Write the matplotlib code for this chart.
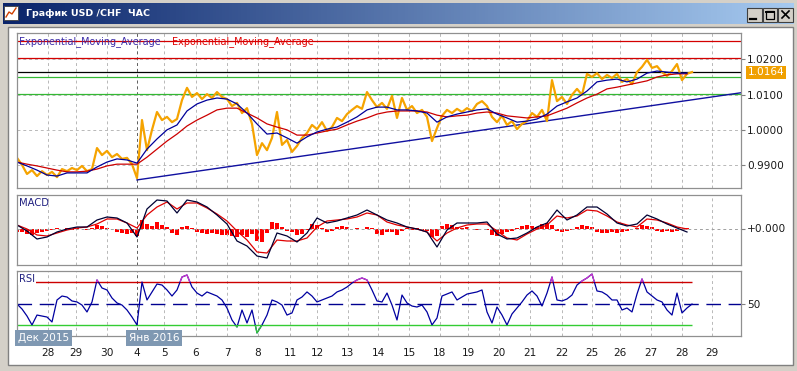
import numpy as np
import matplotlib.pyplot as plt
from matplotlib.patches import Rectangle
from matplotlib.colors import LinearSegmentedColormap
from matplotlib.transforms import blended_transform_factory

# ---- data ----
# time axis: one unit ~ one screen column of the chart, day starts below
day_t = [31, 59, 90, 120, 147, 179, 210, 241, 273, 300, 331, 361,
         392, 423, 451, 482, 513, 545, 575, 603, 634, 665, 695]
day_labels = ['28', '29', '30', '4', '5', '6', '7', '8', '11', '12', '13', '14',
              '15', '18', '19', '20', '21', '22', '25', '26', '27', '28', '29']
month_t = [1, 112]
month_labels = ['Дек 2015', 'Янв 2016']
month_start = 120

# USD/CHF close, one value every 5 units
price = [0.9919, 0.9899, 0.9873, 0.9884, 0.9867, 0.9881, 0.9870, 0.9879, 0.9864, 0.9887,
         0.9881, 0.9890, 0.9884, 0.9896, 0.9881, 0.9887, 0.9947, 0.9927, 0.9939, 0.9921,
         0.9930, 0.9916, 0.9919, 0.9901, 0.9861, 1.0027, 0.9941, 0.9999, 1.0050, 1.0027,
         1.0036, 1.0021, 1.0030, 1.0084, 1.0119, 1.0093, 1.0104, 1.0087, 1.0101, 1.0090,
         1.0107, 1.0093, 1.0087, 1.0067, 1.0076, 1.0047, 1.0061, 1.0016, 0.9927, 0.9961,
         0.9941, 0.9976, 1.0050, 0.9956, 0.9970, 0.9936, 0.9953, 0.9976, 0.9990, 1.0013,
         1.0001, 1.0021, 0.9996, 1.0007, 1.0033, 1.0024, 1.0044, 1.0056, 1.0067, 1.0059,
         1.0107, 1.0084, 1.0064, 1.0076, 1.0059, 1.0096, 1.0033, 1.0090, 1.0056, 1.0067,
         1.0047, 1.0056, 1.0036, 0.9967, 1.0004, 1.0039, 1.0056, 1.0047, 1.0059, 1.0050,
         1.0061, 1.0053, 1.0073, 1.0081, 1.0067, 1.0036, 1.0021, 1.0039, 1.0013, 1.0024,
         1.0001, 1.0016, 1.0024, 1.0047, 1.0036, 1.0056, 1.0024, 1.0141, 1.0081, 1.0093,
         1.0073, 1.0099, 1.0116, 1.0099, 1.0159, 1.0150, 1.0161, 1.0144, 1.0156, 1.0147,
         1.0159, 1.0136, 1.0144, 1.0130, 1.0164, 1.0179, 1.0199, 1.0176, 1.0181, 1.0164,
         1.0153, 1.0167, 1.0187, 1.0141, 1.0159, 1.0164]

# two exponential moving averages, one value every 10 units
ema_fast = [0.9907, 0.9896, 0.9884, 0.9870, 0.9867, 0.9876, 0.9876, 0.9876, 0.9893, 0.9907,
            0.9916, 0.9913, 0.9904, 0.9944, 0.9973, 0.9999, 1.0013, 1.0053, 1.0073, 1.0084,
            1.0090, 1.0087, 1.0073, 1.0047, 1.0016, 0.9987, 0.9990, 0.9976, 0.9961, 0.9979,
            0.9993, 1.0001, 1.0007, 1.0021, 1.0036, 1.0056, 1.0064, 1.0064, 1.0056, 1.0056,
            1.0053, 1.0047, 1.0021, 1.0036, 1.0044, 1.0050, 1.0056, 1.0059, 1.0044, 1.0033,
            1.0021, 1.0024, 1.0030, 1.0044, 1.0067, 1.0079, 1.0090, 1.0110, 1.0136, 1.0141,
            1.0144, 1.0136, 1.0144, 1.0161, 1.0167, 1.0164, 1.0161, 1.0161]
ema_slow = [0.9907, 0.9901, 0.9896, 0.9890, 0.9884, 0.9879, 0.9879, 0.9881, 0.9887, 0.9896,
            0.9901, 0.9901, 0.9901, 0.9921, 0.9944, 0.9967, 0.9987, 1.0010, 1.0027, 1.0041,
            1.0056, 1.0061, 1.0061, 1.0047, 1.0033, 1.0016, 1.0007, 0.9999, 0.9984, 0.9984,
            0.9990, 0.9996, 1.0001, 1.0013, 1.0024, 1.0033, 1.0044, 1.0050, 1.0053, 1.0053,
            1.0053, 1.0050, 1.0041, 1.0036, 1.0039, 1.0041, 1.0047, 1.0050, 1.0047, 1.0039,
            1.0036, 1.0033, 1.0036, 1.0039, 1.0050, 1.0061, 1.0076, 1.0090, 1.0101, 1.0116,
            1.0121, 1.0127, 1.0133, 1.0139, 1.0150, 1.0156, 1.0159, 1.0159]

# horizontal levels and the support trend line
levels = [1.0253, 1.0203, 1.0163, 1.0149, 1.0101]
level_colors = ['#d40000', '#d40000', '#000000', '#33b833', '#33b833']
trend_t = [120, 724]
trend_v = [0.9856, 1.0105]

# MACD main / signal (pips, every 10 units) and histogram (pips, every 5 units)
macd_main = [3.5, -2.5, -10.5, -8.5, -3.5, -0.5, 1.5, 1.5, 8.5, 11.5,
             10.5, 5.5, -8.5, 19.5, 28.5, 27.5, 15.5, 28.5, 26.5, 21.5,
             13.5, 4.5, -12.5, -17.5, -27.5, -29.5, -4.5, -7.5, -13.5, -4.5,
             10.5, 5.5, 7.5, 10.5, 13.5, 18.5, 13.5, 8.5, 5.5, 1.5,
             -0.5, -3.5, -18.5, -1.5, 5.5, 5.5, 5.5, 6.5, -5.5, -10.5,
             -9.5, -4.5, 1.5, 5.5, 18.5, 8.5, 13.5, 21.5, 21.5, 14.5,
             5.5, 2.5, 4.5, 13.5, 9.5, 4.5, 0.5, -3.5]
macd_signal = [3.5, -0.5, -6.5, -7.5, -4.5, -1.5, 0.5, 1.5, 4.5, 9.5,
               9.5, 5.5, 0.5, 13.5, 21.5, 26.5, 19.5, 25.5, 25.5, 20.5,
               14.5, 7.5, -2.5, -11.5, -23.5, -24.5, -11.5, -12.5, -12.5, -9.5,
               1.5, 7.5, 8.5, 9.5, 11.5, 15.5, 13.5, 6.5, 3.5, 1.5,
               -0.5, -3.5, -12.5, -4.5, 0.5, 3.5, 4.5, 4.5, -2.5, -9.5,
               -11.5, -5.5, -0.5, 3.5, 12.5, 10.5, 12.5, 18.5, 17.5, 12.5,
               6.5, 3.5, 1.5, 9.5, 8.5, 5.5, 1.5, -0.5]
macd_hist = [-3, -3, -5, -6, -4, -3, -2, -1, 1, 0, 1, -1, 1, 0, -1, 1, 4, 3, 1, 0,
             -3, -4, -5, -4, -7, 9, 5, 3, 7, 4, 2, -4, -6, 2, 3, 1, -3, -4, -5, -4,
             -5, -6, -6, -7, -8, -6, -8, -5, -12, -13, -4, 7, 6, 2, -2, -3, -6, -5, -1, 5,
             4, 1, -3, -2, 2, 3, 2, 0, 1, 0, 2, 1, -5, -6, -3, -3, -6, -2, 1, -1,
             1, -1, -2, -8, -7, 3, 5, 4, 2, 1, 2, 0, -1, 0, -1, -6, -7, -5, -3, -2,
             1, 3, 4, 3, 2, 5, 6, 4, -2, -3, -2, -1, 2, 4, 3, 2, -3, -4, -4, -3,
             -4, -3, -2, 0, 1, 4, 3, 2, -2, -3, -2, -3, -2, -1, 1, 0]

# RSI, every 5 units
rsi = [49.5, 45.0, 38.6, 30.5, 39.5, 38.6, 37.7, 33.2, 53.2, 56.8,
       55.9, 52.3, 51.4, 48.6, 42.3, 51.4, 71.4, 64.1, 62.3, 55.0,
       50.5, 48.6, 44.1, 37.7, 30.5, 69.5, 53.2, 60.5, 67.7, 66.8,
       62.3, 56.8, 62.3, 74.1, 75.9, 65.0, 59.5, 56.8, 60.5, 58.6,
       56.8, 53.2, 45.9, 35.0, 28.6, 44.1, 32.3, 44.1, 23.2, 30.5,
       39.5, 53.2, 51.4, 48.6, 39.5, 41.4, 53.2, 55.9, 60.5, 56.8,
       51.4, 53.2, 55.0, 56.8, 60.5, 62.3, 65.0, 68.6, 71.4, 73.2,
       71.4, 62.3, 52.3, 51.4, 59.5, 48.6, 35.0, 57.7, 50.5, 47.7,
       46.8, 48.6, 42.3, 30.5, 36.8, 56.8, 58.6, 60.5, 53.2, 55.9,
       58.6, 59.5, 60.5, 62.3, 42.3, 32.3, 46.8, 39.5, 30.5, 40.5,
       45.9, 51.4, 57.7, 61.4, 56.8, 47.7, 59.5, 74.1, 53.2, 52.3,
       54.1, 57.7, 66.8, 70.5, 73.2, 76.8, 61.4, 60.5, 57.7, 53.2,
       53.2, 44.1, 45.9, 42.3, 58.6, 72.3, 60.5, 56.8, 53.2, 51.4,
       44.1, 39.5, 59.5, 41.4, 45.9, 49.5]

t_price = np.arange(len(price)) * 5
t_ema = np.arange(len(ema_fast)) * 10
t_hist = np.arange(len(macd_hist)) * 5
t_rsi = np.arange(len(rsi)) * 5
t_end = t_rsi[-1]

# ---- figure ----
W, H = 797, 371
fig = plt.figure(figsize=(W / 100, H / 100), dpi=100, facecolor='#d4d0c8')

# window chrome in pixel coordinates
bg = fig.add_axes([0, 0, 1, 1])
bg.axis('off')
tb = LinearSegmentedColormap.from_list('tb', ['#0a246a', '#a6caf0'])
bg.imshow(np.linspace(0, 1, 256).reshape(1, -1), cmap=tb, extent=(3, 794, 24, 3), aspect='auto')
bg.add_patch(Rectangle((4, 6), 14, 14, fc='white', ec='#404040', lw=0.6))
bg.plot([6, 9, 12, 16], [17, 12, 14, 8], color='#d04000', lw=1)
bg.text(26, 14, 'График USD /CHF  ЧАС', color='white', fontsize=6.8, fontweight='bold',
        va='center', ha='left')
for bx, bw in [(747, 15), (763, 14), (778, 15)]:
    bg.add_patch(Rectangle((bx, 8), bw, 14, fc='#d4d0c8', ec='#404040', lw=0.8))
bg.plot([750, 756], [18.5, 18.5], color='black', lw=1.6)
bg.add_patch(Rectangle((766, 11), 8, 8, fc='none', ec='black', lw=0.9))
bg.plot([766, 774], [11.5, 11.5], color='black', lw=1.4)
bg.plot([782, 789], [11, 18], color='black', lw=1.2)
bg.plot([782, 789], [18, 11], color='black', lw=1.2)
bg.add_patch(Rectangle((8, 27), 785, 338, fc='white', ec='#808080', lw=1))
bg.set_xlim(0, W)
bg.set_ylim(H, 0)


def px_axes(x0, y0, x1, y1):
    return fig.add_axes([x0 / W, 1 - y1 / H, (x1 - x0) / W, (y1 - y0) / H])


ax_p = px_axes(17, 33, 741, 188)
ax_m = px_axes(17, 195, 741, 265)
ax_r = px_axes(17, 271, 741, 336)

grid_kw = dict(color='#b8b8b8', ls=(0, (3, 3)), lw=0.7)
for ax in (ax_p, ax_m, ax_r):
    ax.set_xlim(0, 724)
    ax.set_xticks(day_t)
    ax.grid(axis='x', **grid_kw)
    ax.axvline(month_start, color='#606060', ls=(0, (3, 3)), lw=0.7)
    ax.yaxis.tick_right()
    ax.tick_params(axis='y', length=3, color='#808080', labelsize=7.6,
                   labelcolor='#1a1a1a', pad=1.5)
    ax.tick_params(axis='x', length=0, labelbottom=False)
    for s in ax.spines.values():
        s.set_color('#909090')
        s.set_linewidth(0.9)

# ---- price panel ----
ax_p.set_ylim(0.98329, 1.02757)
ax_p.set_yticks([0.99, 1.0, 1.01, 1.02], ['0.9900', '1.0000', '1.0100', '1.0200'])
ax_p.grid(axis='y', **grid_kw)
for lv, c in zip(levels, level_colors):
    ax_p.axhline(lv, color=c, lw=0.9)
ax_p.plot(trend_t, trend_v, color='#1010a0', lw=1.0)
ax_p.plot(t_price, price, color='#f5a300', lw=1.6)
ax_p.plot(t_ema, ema_slow, color='#cc0000', lw=0.9)
ax_p.plot(t_ema, ema_fast, color='#000099', lw=0.9)
ax_p.text(0.003, 0.948, 'Exponential_Moving_Average', transform=ax_p.transAxes,
          color='#3a2aa8', fontsize=6.9, va='center', ha='left')
ax_p.text(0.214, 0.948, 'Exponential_Moving_Average', transform=ax_p.transAxes,
          color='#e00000', fontsize=6.9, va='center', ha='left')
ax_p.annotate(f'{price[-1]:.4f}', xy=(1, price[-1]), xycoords=ax_p.get_yaxis_transform(),
              xytext=(5, 0), textcoords='offset points', ha='left', va='center',
              color='white', fontsize=7.6,
              bbox=dict(boxstyle='square,pad=0.15', fc='#f0a000', ec='none'))

# ---- MACD panel ----
ax_m.set_ylim(-0.00365, 0.00335)
ax_m.set_yticks([0], ['+0.000'])
ax_m.axhline(0, color='#a0a0a0', ls=(0, (3, 3)), lw=0.7)
ax_m.bar(t_hist, np.array(macd_hist) * 1e-4, width=4, color='#ff0000', lw=0)
ax_m.plot(t_ema, np.array(macd_signal) * 1e-4, color='#e00000', lw=0.9)
ax_m.plot(t_ema, np.array(macd_main) * 1e-4, color='#000033', lw=0.9)
ax_m.text(0.003, 0.886, 'MACD', transform=ax_m.transAxes, color='#202080',
          fontsize=7.2, va='center', ha='left')

# ---- RSI panel ----
ax_r.set_ylim(20.45, 79.55)
ax_r.set_yticks([50], ['50'])
ax_r.axhline(50, color='#000090', ls=(0, (10.5, 5.5)), lw=1.0)
ax_r.hlines(70, 0, t_end, color='#cc0000', lw=1.0)
ax_r.hlines(30, 0, t_end, color='#33cc33', lw=1.0)
ax_r.plot(t_rsi, rsi, color='#0000a0', lw=0.9)
hi = ax_r.plot(t_rsi, rsi, color='#cc33cc', lw=0.9)[0]
hi.set_clip_path(Rectangle((0, 70), 800, 40, transform=ax_r.transData))
lo = ax_r.plot(t_rsi, rsi, color='#33cc33', lw=0.9)[0]
lo.set_clip_path(Rectangle((0, 0), 800, 30, transform=ax_r.transData))
ax_r.text(0.003, 0.877, 'RSI', transform=ax_r.transAxes, color='#202080', fontsize=7.2,
          va='center', ha='left', zorder=5,
          bbox=dict(boxstyle='square,pad=0.1', fc='white', ec='none'))

ax_r.tick_params(axis='x', labelbottom=True, labelsize=7.6, labelcolor='#1a1a1a', pad=8.5)
ax_r.set_xticks(day_t, day_labels)
mt = blended_transform_factory(ax_r.transData, ax_r.transAxes)
for t, lab in zip(month_t, month_labels):
    ax_r.text(t, -0.031, lab, transform=mt, ha='left', va='center', color='white',
              fontsize=7.6, zorder=10, clip_on=False,
              bbox=dict(boxstyle='square,pad=0.25', fc='#7f98b2', ec='none'))

fig.savefig('out.png', dpi=100, facecolor=fig.get_facecolor())
